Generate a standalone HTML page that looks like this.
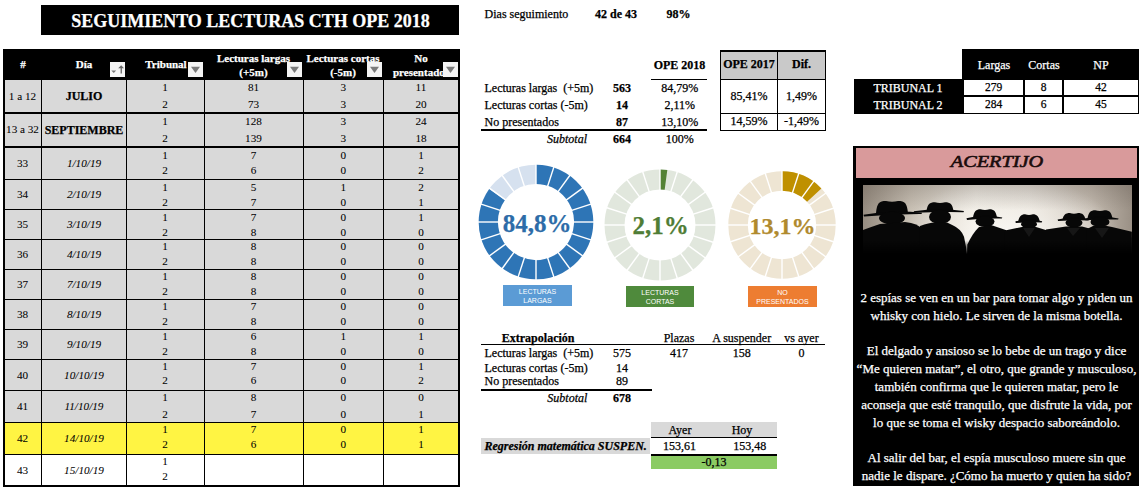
<!DOCTYPE html>
<html><head><meta charset="utf-8"><style>
html,body{margin:0;padding:0;background:#fff;width:1147px;height:492px;overflow:hidden;position:relative}
.t{position:absolute;line-height:1;white-space:nowrap;-webkit-text-stroke:0.25px currentColor}
.r{position:absolute}
</style></head><body>
<div class="r" style="left:41px;top:5px;width:418px;height:30px;background:#000;"></div>
<div class="t" style="left:-49.5px;width:600px;text-align:center;top:11.82px;font-size:18px;font-weight:bold;font-style:normal;color:#fff;font-family:'Liberation Serif', serif;">SEGUIMIENTO LECTURAS CTH OPE 2018</div>
<div class="r" style="left:3px;top:49px;width:457px;height:438px;background:#000;"></div>
<div class="r" style="left:5px;top:80px;width:36px;height:32px;background:#d9d9d9;"></div>
<div class="r" style="left:42px;top:80px;width:84px;height:32px;background:#d9d9d9;"></div>
<div class="r" style="left:127px;top:80px;width:77px;height:32px;background:#d9d9d9;"></div>
<div class="r" style="left:205px;top:80px;width:98px;height:32px;background:#d9d9d9;"></div>
<div class="r" style="left:304px;top:80px;width:79px;height:32px;background:#d9d9d9;"></div>
<div class="r" style="left:384px;top:80px;width:74px;height:32px;background:#d9d9d9;"></div>
<div class="r" style="left:5px;top:114px;width:36px;height:32px;background:#d9d9d9;"></div>
<div class="r" style="left:42px;top:114px;width:84px;height:32px;background:#d9d9d9;"></div>
<div class="r" style="left:127px;top:114px;width:77px;height:32px;background:#d9d9d9;"></div>
<div class="r" style="left:205px;top:114px;width:98px;height:32px;background:#d9d9d9;"></div>
<div class="r" style="left:304px;top:114px;width:79px;height:32px;background:#d9d9d9;"></div>
<div class="r" style="left:384px;top:114px;width:74px;height:32px;background:#d9d9d9;"></div>
<div class="r" style="left:5px;top:148px;width:36px;height:31px;background:#d9d9d9;"></div>
<div class="r" style="left:42px;top:148px;width:84px;height:31px;background:#d9d9d9;"></div>
<div class="r" style="left:127px;top:148px;width:77px;height:31px;background:#d9d9d9;"></div>
<div class="r" style="left:205px;top:148px;width:98px;height:31px;background:#d9d9d9;"></div>
<div class="r" style="left:304px;top:148px;width:79px;height:31px;background:#d9d9d9;"></div>
<div class="r" style="left:384px;top:148px;width:74px;height:31px;background:#d9d9d9;"></div>
<div class="r" style="left:5px;top:180px;width:36px;height:29px;background:#d9d9d9;"></div>
<div class="r" style="left:42px;top:180px;width:84px;height:29px;background:#d9d9d9;"></div>
<div class="r" style="left:127px;top:180px;width:77px;height:29px;background:#d9d9d9;"></div>
<div class="r" style="left:205px;top:180px;width:98px;height:29px;background:#d9d9d9;"></div>
<div class="r" style="left:304px;top:180px;width:79px;height:29px;background:#d9d9d9;"></div>
<div class="r" style="left:384px;top:180px;width:74px;height:29px;background:#d9d9d9;"></div>
<div class="r" style="left:5px;top:210px;width:36px;height:29px;background:#d9d9d9;"></div>
<div class="r" style="left:42px;top:210px;width:84px;height:29px;background:#d9d9d9;"></div>
<div class="r" style="left:127px;top:210px;width:77px;height:29px;background:#d9d9d9;"></div>
<div class="r" style="left:205px;top:210px;width:98px;height:29px;background:#d9d9d9;"></div>
<div class="r" style="left:304px;top:210px;width:79px;height:29px;background:#d9d9d9;"></div>
<div class="r" style="left:384px;top:210px;width:74px;height:29px;background:#d9d9d9;"></div>
<div class="r" style="left:5px;top:240px;width:36px;height:29px;background:#d9d9d9;"></div>
<div class="r" style="left:42px;top:240px;width:84px;height:29px;background:#d9d9d9;"></div>
<div class="r" style="left:127px;top:240px;width:77px;height:29px;background:#d9d9d9;"></div>
<div class="r" style="left:205px;top:240px;width:98px;height:29px;background:#d9d9d9;"></div>
<div class="r" style="left:304px;top:240px;width:79px;height:29px;background:#d9d9d9;"></div>
<div class="r" style="left:384px;top:240px;width:74px;height:29px;background:#d9d9d9;"></div>
<div class="r" style="left:5px;top:270px;width:36px;height:29px;background:#d9d9d9;"></div>
<div class="r" style="left:42px;top:270px;width:84px;height:29px;background:#d9d9d9;"></div>
<div class="r" style="left:127px;top:270px;width:77px;height:29px;background:#d9d9d9;"></div>
<div class="r" style="left:205px;top:270px;width:98px;height:29px;background:#d9d9d9;"></div>
<div class="r" style="left:304px;top:270px;width:79px;height:29px;background:#d9d9d9;"></div>
<div class="r" style="left:384px;top:270px;width:74px;height:29px;background:#d9d9d9;"></div>
<div class="r" style="left:5px;top:300px;width:36px;height:29px;background:#d9d9d9;"></div>
<div class="r" style="left:42px;top:300px;width:84px;height:29px;background:#d9d9d9;"></div>
<div class="r" style="left:127px;top:300px;width:77px;height:29px;background:#d9d9d9;"></div>
<div class="r" style="left:205px;top:300px;width:98px;height:29px;background:#d9d9d9;"></div>
<div class="r" style="left:304px;top:300px;width:79px;height:29px;background:#d9d9d9;"></div>
<div class="r" style="left:384px;top:300px;width:74px;height:29px;background:#d9d9d9;"></div>
<div class="r" style="left:5px;top:330px;width:36px;height:29px;background:#d9d9d9;"></div>
<div class="r" style="left:42px;top:330px;width:84px;height:29px;background:#d9d9d9;"></div>
<div class="r" style="left:127px;top:330px;width:77px;height:29px;background:#d9d9d9;"></div>
<div class="r" style="left:205px;top:330px;width:98px;height:29px;background:#d9d9d9;"></div>
<div class="r" style="left:304px;top:330px;width:79px;height:29px;background:#d9d9d9;"></div>
<div class="r" style="left:384px;top:330px;width:74px;height:29px;background:#d9d9d9;"></div>
<div class="r" style="left:5px;top:360px;width:36px;height:30px;background:#d9d9d9;"></div>
<div class="r" style="left:42px;top:360px;width:84px;height:30px;background:#d9d9d9;"></div>
<div class="r" style="left:127px;top:360px;width:77px;height:30px;background:#d9d9d9;"></div>
<div class="r" style="left:205px;top:360px;width:98px;height:30px;background:#d9d9d9;"></div>
<div class="r" style="left:304px;top:360px;width:79px;height:30px;background:#d9d9d9;"></div>
<div class="r" style="left:384px;top:360px;width:74px;height:30px;background:#d9d9d9;"></div>
<div class="r" style="left:5px;top:391px;width:36px;height:31px;background:#d9d9d9;"></div>
<div class="r" style="left:42px;top:391px;width:84px;height:31px;background:#d9d9d9;"></div>
<div class="r" style="left:127px;top:391px;width:77px;height:31px;background:#d9d9d9;"></div>
<div class="r" style="left:205px;top:391px;width:98px;height:31px;background:#d9d9d9;"></div>
<div class="r" style="left:304px;top:391px;width:79px;height:31px;background:#d9d9d9;"></div>
<div class="r" style="left:384px;top:391px;width:74px;height:31px;background:#d9d9d9;"></div>
<div class="r" style="left:5px;top:423px;width:36px;height:31px;background:#fff443;"></div>
<div class="r" style="left:42px;top:423px;width:84px;height:31px;background:#fff443;"></div>
<div class="r" style="left:127px;top:423px;width:77px;height:31px;background:#fff443;"></div>
<div class="r" style="left:205px;top:423px;width:98px;height:31px;background:#fff443;"></div>
<div class="r" style="left:304px;top:423px;width:79px;height:31px;background:#fff443;"></div>
<div class="r" style="left:384px;top:423px;width:74px;height:31px;background:#fff443;"></div>
<div class="r" style="left:5px;top:455px;width:36px;height:30px;background:#ffffff;"></div>
<div class="r" style="left:42px;top:455px;width:84px;height:30px;background:#ffffff;"></div>
<div class="r" style="left:127px;top:455px;width:77px;height:30px;background:#ffffff;"></div>
<div class="r" style="left:205px;top:455px;width:98px;height:30px;background:#ffffff;"></div>
<div class="r" style="left:304px;top:455px;width:79px;height:30px;background:#ffffff;"></div>
<div class="r" style="left:384px;top:455px;width:74px;height:30px;background:#ffffff;"></div>
<div class="t" style="left:-277px;width:600px;text-align:center;top:59.39px;font-size:11px;font-weight:bold;font-style:normal;color:#fff;font-family:'Liberation Serif', serif;">#</div>
<div class="t" style="left:-216px;width:600px;text-align:center;top:59.39px;font-size:11px;font-weight:bold;font-style:normal;color:#fff;font-family:'Liberation Serif', serif;">Día</div>
<div class="t" style="left:-134px;width:600px;text-align:center;top:59.39px;font-size:11px;font-weight:bold;font-style:normal;color:#fff;font-family:'Liberation Serif', serif;">Tribunal</div>
<div class="t" style="left:-46.5px;width:600px;text-align:center;top:52.79px;font-size:11px;font-weight:bold;font-style:normal;color:#fff;font-family:'Liberation Serif', serif;">Lecturas largas</div>
<div class="t" style="left:-46.5px;width:600px;text-align:center;top:67.19px;font-size:11px;font-weight:bold;font-style:normal;color:#fff;font-family:'Liberation Serif', serif;">(+5m)</div>
<div class="t" style="left:43px;width:600px;text-align:center;top:52.79px;font-size:11px;font-weight:bold;font-style:normal;color:#fff;font-family:'Liberation Serif', serif;">Lecturas cortas</div>
<div class="t" style="left:43px;width:600px;text-align:center;top:67.19px;font-size:11px;font-weight:bold;font-style:normal;color:#fff;font-family:'Liberation Serif', serif;">(-5m)</div>
<div class="t" style="left:121px;width:600px;text-align:center;top:52.79px;font-size:11px;font-weight:bold;font-style:normal;color:#fff;font-family:'Liberation Serif', serif;">No</div>
<div class="t" style="left:385px;width:58px;overflow:hidden;top:67.19px;font-size:11px;font-weight:bold;color:#fff;white-space:nowrap;text-align:left"><span style="margin-left:8px">presentados</span></div>
<div class="r" style="left:110px;top:62px;width:15px;height:15px;background:#f4f4f4"></div>
<svg class="r" style="left:110px;top:62px" width="15" height="15" viewBox="0 0 15 15"><path d="M1.3 8.6 L6.2 8.6 L3.75 11.1 Z" fill="#777"/><path d="M8.2 6.2 L11.2 3.2 L14 6.2 Z" fill="#666"/><rect x="10.6" y="5" width="1.3" height="6.5" fill="#666"/></svg>
<div class="r" style="left:188px;top:62px;width:15px;height:15px;background:#f4f4f4"></div>
<svg class="r" style="left:188px;top:62px" width="15" height="15" viewBox="0 0 15 15"><path d="M3 4.8 L12 4.8 L7.5 11 Z" fill="#7a7a7a"/></svg>
<div class="r" style="left:287px;top:62px;width:15px;height:15px;background:#f4f4f4"></div>
<svg class="r" style="left:287px;top:62px" width="15" height="15" viewBox="0 0 15 15"><path d="M3 4.8 L12 4.8 L7.5 11 Z" fill="#7a7a7a"/></svg>
<div class="r" style="left:367px;top:62px;width:15px;height:15px;background:#f4f4f4"></div>
<svg class="r" style="left:367px;top:62px" width="15" height="15" viewBox="0 0 15 15"><path d="M3 4.8 L12 4.8 L7.5 11 Z" fill="#7a7a7a"/></svg>
<div class="r" style="left:443px;top:62px;width:15px;height:15px;background:#f4f4f4"></div>
<svg class="r" style="left:443px;top:62px" width="15" height="15" viewBox="0 0 15 15"><path d="M3 4.8 L12 4.8 L7.5 11 Z" fill="#7a7a7a"/></svg>
<div class="t" style="left:-277.5px;width:600px;text-align:center;top:90.92px;font-size:11.2px;font-weight:normal;font-style:normal;color:#000;font-family:'Liberation Serif', serif;-webkit-text-stroke:0.05px currentColor;">1 a 12</div>
<div class="t" style="left:-216px;width:600px;text-align:center;top:90.25px;font-size:12px;font-weight:bold;font-style:normal;color:#000;font-family:'Liberation Serif', serif;">JULIO</div>
<div class="t" style="left:-135px;width:600px;text-align:center;top:82.22px;font-size:11.2px;font-weight:normal;font-style:normal;color:#000;font-family:'Liberation Serif', serif;-webkit-text-stroke:0.05px currentColor;">1</div>
<div class="t" style="left:-135px;width:600px;text-align:center;top:98.52px;font-size:11.2px;font-weight:normal;font-style:normal;color:#000;font-family:'Liberation Serif', serif;-webkit-text-stroke:0.05px currentColor;">2</div>
<div class="t" style="left:-46.5px;width:600px;text-align:center;top:82.22px;font-size:11.2px;font-weight:normal;font-style:normal;color:#000;font-family:'Liberation Serif', serif;-webkit-text-stroke:0.05px currentColor;">81</div>
<div class="t" style="left:-46.5px;width:600px;text-align:center;top:98.52px;font-size:11.2px;font-weight:normal;font-style:normal;color:#000;font-family:'Liberation Serif', serif;-webkit-text-stroke:0.05px currentColor;">73</div>
<div class="t" style="left:43.30000000000001px;width:600px;text-align:center;top:82.22px;font-size:11.2px;font-weight:normal;font-style:normal;color:#000;font-family:'Liberation Serif', serif;-webkit-text-stroke:0.05px currentColor;">3</div>
<div class="t" style="left:43.30000000000001px;width:600px;text-align:center;top:98.52px;font-size:11.2px;font-weight:normal;font-style:normal;color:#000;font-family:'Liberation Serif', serif;-webkit-text-stroke:0.05px currentColor;">3</div>
<div class="t" style="left:121px;width:600px;text-align:center;top:82.22px;font-size:11.2px;font-weight:normal;font-style:normal;color:#000;font-family:'Liberation Serif', serif;-webkit-text-stroke:0.05px currentColor;">11</div>
<div class="t" style="left:121px;width:600px;text-align:center;top:98.52px;font-size:11.2px;font-weight:normal;font-style:normal;color:#000;font-family:'Liberation Serif', serif;-webkit-text-stroke:0.05px currentColor;">20</div>
<div class="t" style="left:-277.5px;width:600px;text-align:center;top:124.42px;font-size:11.2px;font-weight:normal;font-style:normal;color:#000;font-family:'Liberation Serif', serif;-webkit-text-stroke:0.05px currentColor;">13 a 32</div>
<div class="t" style="left:-216px;width:600px;text-align:center;top:123.75px;font-size:12px;font-weight:bold;font-style:normal;color:#000;font-family:'Liberation Serif', serif;">SEPTIEMBRE</div>
<div class="t" style="left:-135px;width:600px;text-align:center;top:115.82px;font-size:11.2px;font-weight:normal;font-style:normal;color:#000;font-family:'Liberation Serif', serif;-webkit-text-stroke:0.05px currentColor;">1</div>
<div class="t" style="left:-135px;width:600px;text-align:center;top:132.52px;font-size:11.2px;font-weight:normal;font-style:normal;color:#000;font-family:'Liberation Serif', serif;-webkit-text-stroke:0.05px currentColor;">2</div>
<div class="t" style="left:-46.5px;width:600px;text-align:center;top:115.82px;font-size:11.2px;font-weight:normal;font-style:normal;color:#000;font-family:'Liberation Serif', serif;-webkit-text-stroke:0.05px currentColor;">128</div>
<div class="t" style="left:-46.5px;width:600px;text-align:center;top:132.52px;font-size:11.2px;font-weight:normal;font-style:normal;color:#000;font-family:'Liberation Serif', serif;-webkit-text-stroke:0.05px currentColor;">139</div>
<div class="t" style="left:43.30000000000001px;width:600px;text-align:center;top:115.82px;font-size:11.2px;font-weight:normal;font-style:normal;color:#000;font-family:'Liberation Serif', serif;-webkit-text-stroke:0.05px currentColor;">3</div>
<div class="t" style="left:43.30000000000001px;width:600px;text-align:center;top:132.52px;font-size:11.2px;font-weight:normal;font-style:normal;color:#000;font-family:'Liberation Serif', serif;-webkit-text-stroke:0.05px currentColor;">3</div>
<div class="t" style="left:121px;width:600px;text-align:center;top:115.82px;font-size:11.2px;font-weight:normal;font-style:normal;color:#000;font-family:'Liberation Serif', serif;-webkit-text-stroke:0.05px currentColor;">24</div>
<div class="t" style="left:121px;width:600px;text-align:center;top:132.52px;font-size:11.2px;font-weight:normal;font-style:normal;color:#000;font-family:'Liberation Serif', serif;-webkit-text-stroke:0.05px currentColor;">18</div>
<div class="t" style="left:-277.5px;width:600px;text-align:center;top:157.92px;font-size:11.2px;font-weight:normal;font-style:normal;color:#000;font-family:'Liberation Serif', serif;-webkit-text-stroke:0.05px currentColor;">33</div>
<div class="t" style="left:-216px;width:600px;text-align:center;top:157.92px;font-size:11.2px;font-weight:normal;font-style:italic;color:#000;font-family:'Liberation Serif', serif;-webkit-text-stroke:0.05px currentColor;">1/10/19</div>
<div class="t" style="left:-135px;width:600px;text-align:center;top:149.92px;font-size:11.2px;font-weight:normal;font-style:normal;color:#000;font-family:'Liberation Serif', serif;-webkit-text-stroke:0.05px currentColor;">1</div>
<div class="t" style="left:-135px;width:600px;text-align:center;top:164.82px;font-size:11.2px;font-weight:normal;font-style:normal;color:#000;font-family:'Liberation Serif', serif;-webkit-text-stroke:0.05px currentColor;">2</div>
<div class="t" style="left:-46.5px;width:600px;text-align:center;top:149.92px;font-size:11.2px;font-weight:normal;font-style:normal;color:#000;font-family:'Liberation Serif', serif;-webkit-text-stroke:0.05px currentColor;">7</div>
<div class="t" style="left:-46.5px;width:600px;text-align:center;top:164.82px;font-size:11.2px;font-weight:normal;font-style:normal;color:#000;font-family:'Liberation Serif', serif;-webkit-text-stroke:0.05px currentColor;">6</div>
<div class="t" style="left:43.30000000000001px;width:600px;text-align:center;top:149.92px;font-size:11.2px;font-weight:normal;font-style:normal;color:#000;font-family:'Liberation Serif', serif;-webkit-text-stroke:0.05px currentColor;">0</div>
<div class="t" style="left:43.30000000000001px;width:600px;text-align:center;top:164.82px;font-size:11.2px;font-weight:normal;font-style:normal;color:#000;font-family:'Liberation Serif', serif;-webkit-text-stroke:0.05px currentColor;">0</div>
<div class="t" style="left:121px;width:600px;text-align:center;top:149.92px;font-size:11.2px;font-weight:normal;font-style:normal;color:#000;font-family:'Liberation Serif', serif;-webkit-text-stroke:0.05px currentColor;">1</div>
<div class="t" style="left:121px;width:600px;text-align:center;top:164.82px;font-size:11.2px;font-weight:normal;font-style:normal;color:#000;font-family:'Liberation Serif', serif;-webkit-text-stroke:0.05px currentColor;">2</div>
<div class="t" style="left:-277.5px;width:600px;text-align:center;top:189.42px;font-size:11.2px;font-weight:normal;font-style:normal;color:#000;font-family:'Liberation Serif', serif;-webkit-text-stroke:0.05px currentColor;">34</div>
<div class="t" style="left:-216px;width:600px;text-align:center;top:189.42px;font-size:11.2px;font-weight:normal;font-style:italic;color:#000;font-family:'Liberation Serif', serif;-webkit-text-stroke:0.05px currentColor;">2/10/19</div>
<div class="t" style="left:-135px;width:600px;text-align:center;top:181.92px;font-size:11.2px;font-weight:normal;font-style:normal;color:#000;font-family:'Liberation Serif', serif;-webkit-text-stroke:0.05px currentColor;">1</div>
<div class="t" style="left:-135px;width:600px;text-align:center;top:196.92px;font-size:11.2px;font-weight:normal;font-style:normal;color:#000;font-family:'Liberation Serif', serif;-webkit-text-stroke:0.05px currentColor;">2</div>
<div class="t" style="left:-46.5px;width:600px;text-align:center;top:181.92px;font-size:11.2px;font-weight:normal;font-style:normal;color:#000;font-family:'Liberation Serif', serif;-webkit-text-stroke:0.05px currentColor;">5</div>
<div class="t" style="left:-46.5px;width:600px;text-align:center;top:196.92px;font-size:11.2px;font-weight:normal;font-style:normal;color:#000;font-family:'Liberation Serif', serif;-webkit-text-stroke:0.05px currentColor;">7</div>
<div class="t" style="left:43.30000000000001px;width:600px;text-align:center;top:181.92px;font-size:11.2px;font-weight:normal;font-style:normal;color:#000;font-family:'Liberation Serif', serif;-webkit-text-stroke:0.05px currentColor;">1</div>
<div class="t" style="left:43.30000000000001px;width:600px;text-align:center;top:196.92px;font-size:11.2px;font-weight:normal;font-style:normal;color:#000;font-family:'Liberation Serif', serif;-webkit-text-stroke:0.05px currentColor;">0</div>
<div class="t" style="left:121px;width:600px;text-align:center;top:181.92px;font-size:11.2px;font-weight:normal;font-style:normal;color:#000;font-family:'Liberation Serif', serif;-webkit-text-stroke:0.05px currentColor;">2</div>
<div class="t" style="left:121px;width:600px;text-align:center;top:196.92px;font-size:11.2px;font-weight:normal;font-style:normal;color:#000;font-family:'Liberation Serif', serif;-webkit-text-stroke:0.05px currentColor;">1</div>
<div class="t" style="left:-277.5px;width:600px;text-align:center;top:219.42px;font-size:11.2px;font-weight:normal;font-style:normal;color:#000;font-family:'Liberation Serif', serif;-webkit-text-stroke:0.05px currentColor;">35</div>
<div class="t" style="left:-216px;width:600px;text-align:center;top:219.42px;font-size:11.2px;font-weight:normal;font-style:italic;color:#000;font-family:'Liberation Serif', serif;-webkit-text-stroke:0.05px currentColor;">3/10/19</div>
<div class="t" style="left:-135px;width:600px;text-align:center;top:211.82px;font-size:11.2px;font-weight:normal;font-style:normal;color:#000;font-family:'Liberation Serif', serif;-webkit-text-stroke:0.05px currentColor;">1</div>
<div class="t" style="left:-135px;width:600px;text-align:center;top:226.82px;font-size:11.2px;font-weight:normal;font-style:normal;color:#000;font-family:'Liberation Serif', serif;-webkit-text-stroke:0.05px currentColor;">2</div>
<div class="t" style="left:-46.5px;width:600px;text-align:center;top:211.82px;font-size:11.2px;font-weight:normal;font-style:normal;color:#000;font-family:'Liberation Serif', serif;-webkit-text-stroke:0.05px currentColor;">7</div>
<div class="t" style="left:-46.5px;width:600px;text-align:center;top:226.82px;font-size:11.2px;font-weight:normal;font-style:normal;color:#000;font-family:'Liberation Serif', serif;-webkit-text-stroke:0.05px currentColor;">8</div>
<div class="t" style="left:43.30000000000001px;width:600px;text-align:center;top:211.82px;font-size:11.2px;font-weight:normal;font-style:normal;color:#000;font-family:'Liberation Serif', serif;-webkit-text-stroke:0.05px currentColor;">0</div>
<div class="t" style="left:43.30000000000001px;width:600px;text-align:center;top:226.82px;font-size:11.2px;font-weight:normal;font-style:normal;color:#000;font-family:'Liberation Serif', serif;-webkit-text-stroke:0.05px currentColor;">0</div>
<div class="t" style="left:121px;width:600px;text-align:center;top:211.82px;font-size:11.2px;font-weight:normal;font-style:normal;color:#000;font-family:'Liberation Serif', serif;-webkit-text-stroke:0.05px currentColor;">1</div>
<div class="t" style="left:121px;width:600px;text-align:center;top:226.82px;font-size:11.2px;font-weight:normal;font-style:normal;color:#000;font-family:'Liberation Serif', serif;-webkit-text-stroke:0.05px currentColor;">0</div>
<div class="t" style="left:-277.5px;width:600px;text-align:center;top:249.42px;font-size:11.2px;font-weight:normal;font-style:normal;color:#000;font-family:'Liberation Serif', serif;-webkit-text-stroke:0.05px currentColor;">36</div>
<div class="t" style="left:-216px;width:600px;text-align:center;top:249.42px;font-size:11.2px;font-weight:normal;font-style:italic;color:#000;font-family:'Liberation Serif', serif;-webkit-text-stroke:0.05px currentColor;">4/10/19</div>
<div class="t" style="left:-135px;width:600px;text-align:center;top:241.42px;font-size:11.2px;font-weight:normal;font-style:normal;color:#000;font-family:'Liberation Serif', serif;-webkit-text-stroke:0.05px currentColor;">1</div>
<div class="t" style="left:-135px;width:600px;text-align:center;top:256.32px;font-size:11.2px;font-weight:normal;font-style:normal;color:#000;font-family:'Liberation Serif', serif;-webkit-text-stroke:0.05px currentColor;">2</div>
<div class="t" style="left:-46.5px;width:600px;text-align:center;top:241.42px;font-size:11.2px;font-weight:normal;font-style:normal;color:#000;font-family:'Liberation Serif', serif;-webkit-text-stroke:0.05px currentColor;">8</div>
<div class="t" style="left:-46.5px;width:600px;text-align:center;top:256.32px;font-size:11.2px;font-weight:normal;font-style:normal;color:#000;font-family:'Liberation Serif', serif;-webkit-text-stroke:0.05px currentColor;">8</div>
<div class="t" style="left:43.30000000000001px;width:600px;text-align:center;top:241.42px;font-size:11.2px;font-weight:normal;font-style:normal;color:#000;font-family:'Liberation Serif', serif;-webkit-text-stroke:0.05px currentColor;">0</div>
<div class="t" style="left:43.30000000000001px;width:600px;text-align:center;top:256.32px;font-size:11.2px;font-weight:normal;font-style:normal;color:#000;font-family:'Liberation Serif', serif;-webkit-text-stroke:0.05px currentColor;">0</div>
<div class="t" style="left:121px;width:600px;text-align:center;top:241.42px;font-size:11.2px;font-weight:normal;font-style:normal;color:#000;font-family:'Liberation Serif', serif;-webkit-text-stroke:0.05px currentColor;">0</div>
<div class="t" style="left:121px;width:600px;text-align:center;top:256.32px;font-size:11.2px;font-weight:normal;font-style:normal;color:#000;font-family:'Liberation Serif', serif;-webkit-text-stroke:0.05px currentColor;">0</div>
<div class="t" style="left:-277.5px;width:600px;text-align:center;top:279.42px;font-size:11.2px;font-weight:normal;font-style:normal;color:#000;font-family:'Liberation Serif', serif;-webkit-text-stroke:0.05px currentColor;">37</div>
<div class="t" style="left:-216px;width:600px;text-align:center;top:279.42px;font-size:11.2px;font-weight:normal;font-style:italic;color:#000;font-family:'Liberation Serif', serif;-webkit-text-stroke:0.05px currentColor;">7/10/19</div>
<div class="t" style="left:-135px;width:600px;text-align:center;top:271.02px;font-size:11.2px;font-weight:normal;font-style:normal;color:#000;font-family:'Liberation Serif', serif;-webkit-text-stroke:0.05px currentColor;">1</div>
<div class="t" style="left:-135px;width:600px;text-align:center;top:286.12px;font-size:11.2px;font-weight:normal;font-style:normal;color:#000;font-family:'Liberation Serif', serif;-webkit-text-stroke:0.05px currentColor;">2</div>
<div class="t" style="left:-46.5px;width:600px;text-align:center;top:271.02px;font-size:11.2px;font-weight:normal;font-style:normal;color:#000;font-family:'Liberation Serif', serif;-webkit-text-stroke:0.05px currentColor;">8</div>
<div class="t" style="left:-46.5px;width:600px;text-align:center;top:286.12px;font-size:11.2px;font-weight:normal;font-style:normal;color:#000;font-family:'Liberation Serif', serif;-webkit-text-stroke:0.05px currentColor;">8</div>
<div class="t" style="left:43.30000000000001px;width:600px;text-align:center;top:271.02px;font-size:11.2px;font-weight:normal;font-style:normal;color:#000;font-family:'Liberation Serif', serif;-webkit-text-stroke:0.05px currentColor;">0</div>
<div class="t" style="left:43.30000000000001px;width:600px;text-align:center;top:286.12px;font-size:11.2px;font-weight:normal;font-style:normal;color:#000;font-family:'Liberation Serif', serif;-webkit-text-stroke:0.05px currentColor;">0</div>
<div class="t" style="left:121px;width:600px;text-align:center;top:271.02px;font-size:11.2px;font-weight:normal;font-style:normal;color:#000;font-family:'Liberation Serif', serif;-webkit-text-stroke:0.05px currentColor;">0</div>
<div class="t" style="left:121px;width:600px;text-align:center;top:286.12px;font-size:11.2px;font-weight:normal;font-style:normal;color:#000;font-family:'Liberation Serif', serif;-webkit-text-stroke:0.05px currentColor;">0</div>
<div class="t" style="left:-277.5px;width:600px;text-align:center;top:309.42px;font-size:11.2px;font-weight:normal;font-style:normal;color:#000;font-family:'Liberation Serif', serif;-webkit-text-stroke:0.05px currentColor;">38</div>
<div class="t" style="left:-216px;width:600px;text-align:center;top:309.42px;font-size:11.2px;font-weight:normal;font-style:italic;color:#000;font-family:'Liberation Serif', serif;-webkit-text-stroke:0.05px currentColor;">8/10/19</div>
<div class="t" style="left:-135px;width:600px;text-align:center;top:300.92px;font-size:11.2px;font-weight:normal;font-style:normal;color:#000;font-family:'Liberation Serif', serif;-webkit-text-stroke:0.05px currentColor;">1</div>
<div class="t" style="left:-135px;width:600px;text-align:center;top:315.72px;font-size:11.2px;font-weight:normal;font-style:normal;color:#000;font-family:'Liberation Serif', serif;-webkit-text-stroke:0.05px currentColor;">2</div>
<div class="t" style="left:-46.5px;width:600px;text-align:center;top:300.92px;font-size:11.2px;font-weight:normal;font-style:normal;color:#000;font-family:'Liberation Serif', serif;-webkit-text-stroke:0.05px currentColor;">7</div>
<div class="t" style="left:-46.5px;width:600px;text-align:center;top:315.72px;font-size:11.2px;font-weight:normal;font-style:normal;color:#000;font-family:'Liberation Serif', serif;-webkit-text-stroke:0.05px currentColor;">8</div>
<div class="t" style="left:43.30000000000001px;width:600px;text-align:center;top:300.92px;font-size:11.2px;font-weight:normal;font-style:normal;color:#000;font-family:'Liberation Serif', serif;-webkit-text-stroke:0.05px currentColor;">0</div>
<div class="t" style="left:43.30000000000001px;width:600px;text-align:center;top:315.72px;font-size:11.2px;font-weight:normal;font-style:normal;color:#000;font-family:'Liberation Serif', serif;-webkit-text-stroke:0.05px currentColor;">0</div>
<div class="t" style="left:121px;width:600px;text-align:center;top:300.92px;font-size:11.2px;font-weight:normal;font-style:normal;color:#000;font-family:'Liberation Serif', serif;-webkit-text-stroke:0.05px currentColor;">0</div>
<div class="t" style="left:121px;width:600px;text-align:center;top:315.72px;font-size:11.2px;font-weight:normal;font-style:normal;color:#000;font-family:'Liberation Serif', serif;-webkit-text-stroke:0.05px currentColor;">0</div>
<div class="t" style="left:-277.5px;width:600px;text-align:center;top:339.42px;font-size:11.2px;font-weight:normal;font-style:normal;color:#000;font-family:'Liberation Serif', serif;-webkit-text-stroke:0.05px currentColor;">39</div>
<div class="t" style="left:-216px;width:600px;text-align:center;top:339.42px;font-size:11.2px;font-weight:normal;font-style:italic;color:#000;font-family:'Liberation Serif', serif;-webkit-text-stroke:0.05px currentColor;">9/10/19</div>
<div class="t" style="left:-135px;width:600px;text-align:center;top:330.52px;font-size:11.2px;font-weight:normal;font-style:normal;color:#000;font-family:'Liberation Serif', serif;-webkit-text-stroke:0.05px currentColor;">1</div>
<div class="t" style="left:-135px;width:600px;text-align:center;top:346.12px;font-size:11.2px;font-weight:normal;font-style:normal;color:#000;font-family:'Liberation Serif', serif;-webkit-text-stroke:0.05px currentColor;">2</div>
<div class="t" style="left:-46.5px;width:600px;text-align:center;top:330.52px;font-size:11.2px;font-weight:normal;font-style:normal;color:#000;font-family:'Liberation Serif', serif;-webkit-text-stroke:0.05px currentColor;">6</div>
<div class="t" style="left:-46.5px;width:600px;text-align:center;top:346.12px;font-size:11.2px;font-weight:normal;font-style:normal;color:#000;font-family:'Liberation Serif', serif;-webkit-text-stroke:0.05px currentColor;">8</div>
<div class="t" style="left:43.30000000000001px;width:600px;text-align:center;top:330.52px;font-size:11.2px;font-weight:normal;font-style:normal;color:#000;font-family:'Liberation Serif', serif;-webkit-text-stroke:0.05px currentColor;">1</div>
<div class="t" style="left:43.30000000000001px;width:600px;text-align:center;top:346.12px;font-size:11.2px;font-weight:normal;font-style:normal;color:#000;font-family:'Liberation Serif', serif;-webkit-text-stroke:0.05px currentColor;">0</div>
<div class="t" style="left:121px;width:600px;text-align:center;top:330.52px;font-size:11.2px;font-weight:normal;font-style:normal;color:#000;font-family:'Liberation Serif', serif;-webkit-text-stroke:0.05px currentColor;">1</div>
<div class="t" style="left:121px;width:600px;text-align:center;top:346.12px;font-size:11.2px;font-weight:normal;font-style:normal;color:#000;font-family:'Liberation Serif', serif;-webkit-text-stroke:0.05px currentColor;">0</div>
<div class="t" style="left:-277.5px;width:600px;text-align:center;top:369.92px;font-size:11.2px;font-weight:normal;font-style:normal;color:#000;font-family:'Liberation Serif', serif;-webkit-text-stroke:0.05px currentColor;">40</div>
<div class="t" style="left:-216px;width:600px;text-align:center;top:369.92px;font-size:11.2px;font-weight:normal;font-style:italic;color:#000;font-family:'Liberation Serif', serif;-webkit-text-stroke:0.05px currentColor;">10/10/19</div>
<div class="t" style="left:-135px;width:600px;text-align:center;top:361.22px;font-size:11.2px;font-weight:normal;font-style:normal;color:#000;font-family:'Liberation Serif', serif;-webkit-text-stroke:0.05px currentColor;">1</div>
<div class="t" style="left:-135px;width:600px;text-align:center;top:374.72px;font-size:11.2px;font-weight:normal;font-style:normal;color:#000;font-family:'Liberation Serif', serif;-webkit-text-stroke:0.05px currentColor;">2</div>
<div class="t" style="left:-46.5px;width:600px;text-align:center;top:361.22px;font-size:11.2px;font-weight:normal;font-style:normal;color:#000;font-family:'Liberation Serif', serif;-webkit-text-stroke:0.05px currentColor;">7</div>
<div class="t" style="left:-46.5px;width:600px;text-align:center;top:374.72px;font-size:11.2px;font-weight:normal;font-style:normal;color:#000;font-family:'Liberation Serif', serif;-webkit-text-stroke:0.05px currentColor;">6</div>
<div class="t" style="left:43.30000000000001px;width:600px;text-align:center;top:361.22px;font-size:11.2px;font-weight:normal;font-style:normal;color:#000;font-family:'Liberation Serif', serif;-webkit-text-stroke:0.05px currentColor;">0</div>
<div class="t" style="left:43.30000000000001px;width:600px;text-align:center;top:374.72px;font-size:11.2px;font-weight:normal;font-style:normal;color:#000;font-family:'Liberation Serif', serif;-webkit-text-stroke:0.05px currentColor;">0</div>
<div class="t" style="left:121px;width:600px;text-align:center;top:361.22px;font-size:11.2px;font-weight:normal;font-style:normal;color:#000;font-family:'Liberation Serif', serif;-webkit-text-stroke:0.05px currentColor;">1</div>
<div class="t" style="left:121px;width:600px;text-align:center;top:374.72px;font-size:11.2px;font-weight:normal;font-style:normal;color:#000;font-family:'Liberation Serif', serif;-webkit-text-stroke:0.05px currentColor;">2</div>
<div class="t" style="left:-277.5px;width:600px;text-align:center;top:401.42px;font-size:11.2px;font-weight:normal;font-style:normal;color:#000;font-family:'Liberation Serif', serif;-webkit-text-stroke:0.05px currentColor;">41</div>
<div class="t" style="left:-216px;width:600px;text-align:center;top:401.42px;font-size:11.2px;font-weight:normal;font-style:italic;color:#000;font-family:'Liberation Serif', serif;-webkit-text-stroke:0.05px currentColor;">11/10/19</div>
<div class="t" style="left:-135px;width:600px;text-align:center;top:392.22px;font-size:11.2px;font-weight:normal;font-style:normal;color:#000;font-family:'Liberation Serif', serif;-webkit-text-stroke:0.05px currentColor;">1</div>
<div class="t" style="left:-135px;width:600px;text-align:center;top:409.02px;font-size:11.2px;font-weight:normal;font-style:normal;color:#000;font-family:'Liberation Serif', serif;-webkit-text-stroke:0.05px currentColor;">2</div>
<div class="t" style="left:-46.5px;width:600px;text-align:center;top:392.22px;font-size:11.2px;font-weight:normal;font-style:normal;color:#000;font-family:'Liberation Serif', serif;-webkit-text-stroke:0.05px currentColor;">8</div>
<div class="t" style="left:-46.5px;width:600px;text-align:center;top:409.02px;font-size:11.2px;font-weight:normal;font-style:normal;color:#000;font-family:'Liberation Serif', serif;-webkit-text-stroke:0.05px currentColor;">7</div>
<div class="t" style="left:43.30000000000001px;width:600px;text-align:center;top:392.22px;font-size:11.2px;font-weight:normal;font-style:normal;color:#000;font-family:'Liberation Serif', serif;-webkit-text-stroke:0.05px currentColor;">0</div>
<div class="t" style="left:43.30000000000001px;width:600px;text-align:center;top:409.02px;font-size:11.2px;font-weight:normal;font-style:normal;color:#000;font-family:'Liberation Serif', serif;-webkit-text-stroke:0.05px currentColor;">0</div>
<div class="t" style="left:121px;width:600px;text-align:center;top:392.22px;font-size:11.2px;font-weight:normal;font-style:normal;color:#000;font-family:'Liberation Serif', serif;-webkit-text-stroke:0.05px currentColor;">0</div>
<div class="t" style="left:121px;width:600px;text-align:center;top:409.02px;font-size:11.2px;font-weight:normal;font-style:normal;color:#000;font-family:'Liberation Serif', serif;-webkit-text-stroke:0.05px currentColor;">1</div>
<div class="t" style="left:-277.5px;width:600px;text-align:center;top:433.42px;font-size:11.2px;font-weight:normal;font-style:normal;color:#000;font-family:'Liberation Serif', serif;-webkit-text-stroke:0.05px currentColor;">42</div>
<div class="t" style="left:-216px;width:600px;text-align:center;top:433.42px;font-size:11.2px;font-weight:normal;font-style:italic;color:#000;font-family:'Liberation Serif', serif;-webkit-text-stroke:0.05px currentColor;">14/10/19</div>
<div class="t" style="left:-135px;width:600px;text-align:center;top:424.32px;font-size:11.2px;font-weight:normal;font-style:normal;color:#000;font-family:'Liberation Serif', serif;-webkit-text-stroke:0.05px currentColor;">1</div>
<div class="t" style="left:-135px;width:600px;text-align:center;top:439.22px;font-size:11.2px;font-weight:normal;font-style:normal;color:#000;font-family:'Liberation Serif', serif;-webkit-text-stroke:0.05px currentColor;">2</div>
<div class="t" style="left:-46.5px;width:600px;text-align:center;top:424.32px;font-size:11.2px;font-weight:normal;font-style:normal;color:#000;font-family:'Liberation Serif', serif;-webkit-text-stroke:0.05px currentColor;">7</div>
<div class="t" style="left:-46.5px;width:600px;text-align:center;top:439.22px;font-size:11.2px;font-weight:normal;font-style:normal;color:#000;font-family:'Liberation Serif', serif;-webkit-text-stroke:0.05px currentColor;">6</div>
<div class="t" style="left:43.30000000000001px;width:600px;text-align:center;top:424.32px;font-size:11.2px;font-weight:normal;font-style:normal;color:#000;font-family:'Liberation Serif', serif;-webkit-text-stroke:0.05px currentColor;">0</div>
<div class="t" style="left:43.30000000000001px;width:600px;text-align:center;top:439.22px;font-size:11.2px;font-weight:normal;font-style:normal;color:#000;font-family:'Liberation Serif', serif;-webkit-text-stroke:0.05px currentColor;">0</div>
<div class="t" style="left:121px;width:600px;text-align:center;top:424.32px;font-size:11.2px;font-weight:normal;font-style:normal;color:#000;font-family:'Liberation Serif', serif;-webkit-text-stroke:0.05px currentColor;">1</div>
<div class="t" style="left:121px;width:600px;text-align:center;top:439.22px;font-size:11.2px;font-weight:normal;font-style:normal;color:#000;font-family:'Liberation Serif', serif;-webkit-text-stroke:0.05px currentColor;">1</div>
<div class="t" style="left:-277.5px;width:600px;text-align:center;top:464.92px;font-size:11.2px;font-weight:normal;font-style:normal;color:#000;font-family:'Liberation Serif', serif;-webkit-text-stroke:0.05px currentColor;">43</div>
<div class="t" style="left:-216px;width:600px;text-align:center;top:464.92px;font-size:11.2px;font-weight:normal;font-style:italic;color:#000;font-family:'Liberation Serif', serif;-webkit-text-stroke:0.05px currentColor;">15/10/19</div>
<div class="t" style="left:-135px;width:600px;text-align:center;top:455.92px;font-size:11.2px;font-weight:normal;font-style:normal;color:#000;font-family:'Liberation Serif', serif;-webkit-text-stroke:0.05px currentColor;">1</div>
<div class="t" style="left:-135px;width:600px;text-align:center;top:470.82px;font-size:11.2px;font-weight:normal;font-style:normal;color:#000;font-family:'Liberation Serif', serif;-webkit-text-stroke:0.05px currentColor;">2</div>
<div class="t" style="left:484.6px;top:7.55px;font-size:12px;font-weight:normal;font-style:normal;color:#000;font-family:'Liberation Serif', serif;">Dias seguimiento</div>
<div class="t" style="left:595px;top:7.55px;font-size:12px;font-weight:bold;font-style:normal;color:#000;font-family:'Liberation Serif', serif;">42 de 43</div>
<div class="t" style="left:666.5px;top:7.55px;font-size:12px;font-weight:bold;font-style:normal;color:#000;font-family:'Liberation Serif', serif;">98%</div>
<div class="t" style="left:379.5px;width:600px;text-align:center;top:58.95px;font-size:12px;font-weight:bold;font-style:normal;color:#000;font-family:'Liberation Serif', serif;">OPE 2018</div>
<div class="r" style="left:651px;top:79px;width:56px;height:1px;background:#000;"></div>
<div class="t" style="left:484.5px;top:81.95px;font-size:12px;font-weight:normal;font-style:normal;color:#000;font-family:'Liberation Serif', serif;">Lecturas largas&nbsp; (+5m)</div>
<div class="t" style="left:322px;width:600px;text-align:center;top:81.95px;font-size:12px;font-weight:bold;font-style:normal;color:#000;font-family:'Liberation Serif', serif;">563</div>
<div class="t" style="left:379.70000000000005px;width:600px;text-align:center;top:81.95px;font-size:12px;font-weight:normal;font-style:normal;color:#000;font-family:'Liberation Serif', serif;">84,79%</div>
<div class="t" style="left:484.5px;top:98.95px;font-size:12px;font-weight:normal;font-style:normal;color:#000;font-family:'Liberation Serif', serif;">Lecturas cortas (-5m)</div>
<div class="t" style="left:322px;width:600px;text-align:center;top:98.95px;font-size:12px;font-weight:bold;font-style:normal;color:#000;font-family:'Liberation Serif', serif;">14</div>
<div class="t" style="left:379.70000000000005px;width:600px;text-align:center;top:98.95px;font-size:12px;font-weight:normal;font-style:normal;color:#000;font-family:'Liberation Serif', serif;">2,11%</div>
<div class="t" style="left:484.5px;top:115.95px;font-size:12px;font-weight:normal;font-style:normal;color:#000;font-family:'Liberation Serif', serif;">No presentados</div>
<div class="t" style="left:322px;width:600px;text-align:center;top:115.95px;font-size:12px;font-weight:bold;font-style:normal;color:#000;font-family:'Liberation Serif', serif;">87</div>
<div class="t" style="left:379.70000000000005px;width:600px;text-align:center;top:115.95px;font-size:12px;font-weight:normal;font-style:normal;color:#000;font-family:'Liberation Serif', serif;">13,10%</div>
<div class="r" style="left:481px;top:129px;width:226px;height:2px;background:#000;"></div>
<div class="t" style="left:-13px;width:600px;text-align:right;top:132.95px;font-size:12px;font-weight:normal;font-style:italic;color:#000;font-family:'Liberation Serif', serif;">Subtotal</div>
<div class="t" style="left:322px;width:600px;text-align:center;top:132.95px;font-size:12px;font-weight:bold;font-style:normal;color:#000;font-family:'Liberation Serif', serif;">664</div>
<div class="t" style="left:379.70000000000005px;width:600px;text-align:center;top:132.95px;font-size:12px;font-weight:normal;font-style:normal;color:#000;font-family:'Liberation Serif', serif;">100%</div>
<div class="r" style="left:720px;top:50px;width:106px;height:81px;background:#000;"></div>
<div class="r" style="left:721px;top:52px;width:56px;height:27px;background:#c9c9c9;"></div>
<div class="r" style="left:778px;top:52px;width:47px;height:27px;background:#c9c9c9;"></div>
<div class="r" style="left:721px;top:80px;width:56px;height:33px;background:#fff;"></div>
<div class="r" style="left:778px;top:80px;width:47px;height:33px;background:#fff;"></div>
<div class="r" style="left:721px;top:114px;width:56px;height:16px;background:#fff;"></div>
<div class="r" style="left:778px;top:114px;width:47px;height:16px;background:#fff;"></div>
<div class="t" style="left:449px;width:600px;text-align:center;top:58.35px;font-size:12px;font-weight:bold;font-style:normal;color:#000;font-family:'Liberation Serif', serif;">OPE 2017</div>
<div class="t" style="left:501.5px;width:600px;text-align:center;top:58.35px;font-size:12px;font-weight:bold;font-style:normal;color:#000;font-family:'Liberation Serif', serif;">Dif.</div>
<div class="t" style="left:449px;width:600px;text-align:center;top:89.95px;font-size:12px;font-weight:normal;font-style:normal;color:#000;font-family:'Liberation Serif', serif;">85,41%</div>
<div class="t" style="left:501.5px;width:600px;text-align:center;top:89.95px;font-size:12px;font-weight:normal;font-style:normal;color:#000;font-family:'Liberation Serif', serif;">1,49%</div>
<div class="t" style="left:449px;width:600px;text-align:center;top:115.25px;font-size:12px;font-weight:normal;font-style:normal;color:#000;font-family:'Liberation Serif', serif;">14,59%</div>
<div class="t" style="left:501.5px;width:600px;text-align:center;top:115.25px;font-size:12px;font-weight:normal;font-style:normal;color:#000;font-family:'Liberation Serif', serif;">-1,49%</div>
<div class="r" style="left:962px;top:49px;width:177px;height:65px;background:#000;"></div>
<div class="r" style="left:854px;top:79px;width:110px;height:35px;background:#000;"></div>
<div class="r" style="left:964px;top:80px;width:59px;height:15px;background:#fff;"></div>
<div class="r" style="left:964px;top:97px;width:59px;height:16px;background:#fff;"></div>
<div class="r" style="left:1025px;top:80px;width:37px;height:15px;background:#fff;"></div>
<div class="r" style="left:1025px;top:97px;width:37px;height:16px;background:#fff;"></div>
<div class="r" style="left:1064px;top:80px;width:74px;height:15px;background:#fff;"></div>
<div class="r" style="left:1064px;top:97px;width:74px;height:16px;background:#fff;"></div>
<div class="t" style="left:694px;width:600px;text-align:center;top:58.95px;font-size:12px;font-weight:normal;font-style:normal;color:#fff;font-family:'Liberation Serif', serif;">Largas</div>
<div class="t" style="left:744px;width:600px;text-align:center;top:58.95px;font-size:12px;font-weight:normal;font-style:normal;color:#fff;font-family:'Liberation Serif', serif;">Cortas</div>
<div class="t" style="left:801px;width:600px;text-align:center;top:58.95px;font-size:12px;font-weight:normal;font-style:normal;color:#fff;font-family:'Liberation Serif', serif;">NP</div>
<div class="t" style="left:608px;width:600px;text-align:center;top:81.95px;font-size:12px;font-weight:normal;font-style:normal;color:#fff;font-family:'Liberation Serif', serif;">TRIBUNAL 1</div>
<div class="t" style="left:608px;width:600px;text-align:center;top:98.95px;font-size:12px;font-weight:normal;font-style:normal;color:#fff;font-family:'Liberation Serif', serif;">TRIBUNAL 2</div>
<div class="t" style="left:693.7px;width:600px;text-align:center;top:81.97px;font-size:11.5px;font-weight:normal;font-style:normal;color:#000;font-family:'Liberation Serif', serif;">279</div>
<div class="t" style="left:693.7px;width:600px;text-align:center;top:99.17px;font-size:11.5px;font-weight:normal;font-style:normal;color:#000;font-family:'Liberation Serif', serif;">284</div>
<div class="t" style="left:743.5px;width:600px;text-align:center;top:81.97px;font-size:11.5px;font-weight:normal;font-style:normal;color:#000;font-family:'Liberation Serif', serif;">8</div>
<div class="t" style="left:743.5px;width:600px;text-align:center;top:99.17px;font-size:11.5px;font-weight:normal;font-style:normal;color:#000;font-family:'Liberation Serif', serif;">6</div>
<div class="t" style="left:801px;width:600px;text-align:center;top:81.97px;font-size:11.5px;font-weight:normal;font-style:normal;color:#000;font-family:'Liberation Serif', serif;">42</div>
<div class="t" style="left:801px;width:600px;text-align:center;top:99.17px;font-size:11.5px;font-weight:normal;font-style:normal;color:#000;font-family:'Liberation Serif', serif;">45</div>
<svg class="r" style="left:466.20000000000005px;top:152.4px" width="140" height="140" viewBox="0 0 140 140"><circle cx="70" cy="70" r="47.65" fill="none" stroke="#d6e1ef" stroke-width="19.299999999999997"/><path d="M70 22.35 A47.65 47.65 0 1 1 31.101 42.479" fill="none" stroke="#2e75b6" stroke-width="19.299999999999997"/><line x1="70.000" y1="34.000" x2="70.000" y2="10.700" stroke="#fff" stroke-width="1.4"/><line x1="81.125" y1="35.762" x2="88.325" y2="13.602" stroke="#fff" stroke-width="1.4"/><line x1="91.160" y1="40.875" x2="104.856" y2="22.025" stroke="#fff" stroke-width="1.4"/><line x1="99.125" y1="48.840" x2="117.975" y2="35.144" stroke="#fff" stroke-width="1.4"/><line x1="104.238" y1="58.875" x2="126.398" y2="51.675" stroke="#fff" stroke-width="1.4"/><line x1="106.000" y1="70.000" x2="129.300" y2="70.000" stroke="#fff" stroke-width="1.4"/><line x1="104.238" y1="81.125" x2="126.398" y2="88.325" stroke="#fff" stroke-width="1.4"/><line x1="99.125" y1="91.160" x2="117.975" y2="104.856" stroke="#fff" stroke-width="1.4"/><line x1="91.160" y1="99.125" x2="104.856" y2="117.975" stroke="#fff" stroke-width="1.4"/><line x1="81.125" y1="104.238" x2="88.325" y2="126.398" stroke="#fff" stroke-width="1.4"/><line x1="70.000" y1="106.000" x2="70.000" y2="129.300" stroke="#fff" stroke-width="1.4"/><line x1="58.875" y1="104.238" x2="51.675" y2="126.398" stroke="#fff" stroke-width="1.4"/><line x1="48.840" y1="99.125" x2="35.144" y2="117.975" stroke="#fff" stroke-width="1.4"/><line x1="40.875" y1="91.160" x2="22.025" y2="104.856" stroke="#fff" stroke-width="1.4"/><line x1="35.762" y1="81.125" x2="13.602" y2="88.325" stroke="#fff" stroke-width="1.4"/><line x1="34.000" y1="70.000" x2="10.700" y2="70.000" stroke="#fff" stroke-width="1.4"/><line x1="35.762" y1="58.875" x2="13.602" y2="51.675" stroke="#fff" stroke-width="1.4"/><line x1="40.875" y1="48.840" x2="22.025" y2="35.144" stroke="#fff" stroke-width="1.4"/><line x1="48.840" y1="40.875" x2="35.144" y2="22.025" stroke="#fff" stroke-width="1.4"/><line x1="58.875" y1="35.762" x2="51.675" y2="13.602" stroke="#fff" stroke-width="1.4"/></svg>
<div class="t" style="left:237.20000000000005px;width:600px;text-align:center;top:210.66px;font-size:25px;font-weight:bold;font-style:normal;color:#2d6ca8;font-family:'Liberation Serif', serif;">84,8%</div>
<div class="r" style="left:503px;top:285px;width:69px;height:21px;background:#5b9bd5;"></div>
<div class="t" style="left:237.5px;width:600px;text-align:center;top:288.07px;font-size:7px;font-weight:normal;font-style:normal;color:#fff;font-family:'Liberation Sans', sans-serif;-webkit-text-stroke:0;">LECTURAS</div>
<div class="t" style="left:237.5px;width:600px;text-align:center;top:296.57px;font-size:7px;font-weight:normal;font-style:normal;color:#fff;font-family:'Liberation Sans', sans-serif;-webkit-text-stroke:0;">LARGAS</div>
<svg class="r" style="left:589.5px;top:154.9px" width="140" height="140" viewBox="0 0 140 140"><circle cx="70" cy="70" r="45.5" fill="none" stroke="#e1e7dd" stroke-width="20.0"/><path d="M70 24.5 A45.5 45.5 0 0 1 75.986 24.896" fill="none" stroke="#548235" stroke-width="20.0"/><line x1="70.000" y1="36.500" x2="70.000" y2="12.500" stroke="#fff" stroke-width="1.4"/><line x1="80.352" y1="38.140" x2="87.768" y2="15.314" stroke="#fff" stroke-width="1.4"/><line x1="89.691" y1="42.898" x2="103.798" y2="23.482" stroke="#fff" stroke-width="1.4"/><line x1="97.102" y1="50.309" x2="116.518" y2="36.202" stroke="#fff" stroke-width="1.4"/><line x1="101.860" y1="59.648" x2="124.686" y2="52.232" stroke="#fff" stroke-width="1.4"/><line x1="103.500" y1="70.000" x2="127.500" y2="70.000" stroke="#fff" stroke-width="1.4"/><line x1="101.860" y1="80.352" x2="124.686" y2="87.768" stroke="#fff" stroke-width="1.4"/><line x1="97.102" y1="89.691" x2="116.518" y2="103.798" stroke="#fff" stroke-width="1.4"/><line x1="89.691" y1="97.102" x2="103.798" y2="116.518" stroke="#fff" stroke-width="1.4"/><line x1="80.352" y1="101.860" x2="87.768" y2="124.686" stroke="#fff" stroke-width="1.4"/><line x1="70.000" y1="103.500" x2="70.000" y2="127.500" stroke="#fff" stroke-width="1.4"/><line x1="59.648" y1="101.860" x2="52.232" y2="124.686" stroke="#fff" stroke-width="1.4"/><line x1="50.309" y1="97.102" x2="36.202" y2="116.518" stroke="#fff" stroke-width="1.4"/><line x1="42.898" y1="89.691" x2="23.482" y2="103.798" stroke="#fff" stroke-width="1.4"/><line x1="38.140" y1="80.352" x2="15.314" y2="87.768" stroke="#fff" stroke-width="1.4"/><line x1="36.500" y1="70.000" x2="12.500" y2="70.000" stroke="#fff" stroke-width="1.4"/><line x1="38.140" y1="59.648" x2="15.314" y2="52.232" stroke="#fff" stroke-width="1.4"/><line x1="42.898" y1="50.309" x2="23.482" y2="36.202" stroke="#fff" stroke-width="1.4"/><line x1="50.309" y1="42.898" x2="36.202" y2="23.482" stroke="#fff" stroke-width="1.4"/><line x1="59.648" y1="38.140" x2="52.232" y2="15.314" stroke="#fff" stroke-width="1.4"/></svg>
<div class="t" style="left:360.5px;width:600px;text-align:center;top:213.16px;font-size:25px;font-weight:bold;font-style:normal;color:#4f7d36;font-family:'Liberation Serif', serif;">2,1%</div>
<div class="r" style="left:626px;top:286px;width:68px;height:21px;background:#4f8a3c;"></div>
<div class="t" style="left:360.0px;width:600px;text-align:center;top:289.07px;font-size:7px;font-weight:normal;font-style:normal;color:#fff;font-family:'Liberation Sans', sans-serif;-webkit-text-stroke:0;">LECTURAS</div>
<div class="t" style="left:360.0px;width:600px;text-align:center;top:297.57px;font-size:7px;font-weight:normal;font-style:normal;color:#fff;font-family:'Liberation Sans', sans-serif;-webkit-text-stroke:0;">CORTAS</div>
<svg class="r" style="left:711.5px;top:154.9px" width="140" height="140" viewBox="0 0 140 140"><circle cx="70" cy="70" r="43.95" fill="none" stroke="#eee5d3" stroke-width="19.5"/><path d="M70 26.049999999999997 A43.95 43.95 0 0 1 102.227 40.116" fill="none" stroke="#bf9000" stroke-width="19.5"/><line x1="70.000" y1="37.800" x2="70.000" y2="14.300" stroke="#fff" stroke-width="1.4"/><line x1="79.950" y1="39.376" x2="87.212" y2="17.026" stroke="#fff" stroke-width="1.4"/><line x1="88.927" y1="43.950" x2="102.740" y2="24.938" stroke="#fff" stroke-width="1.4"/><line x1="96.050" y1="51.073" x2="115.062" y2="37.260" stroke="#fff" stroke-width="1.4"/><line x1="100.624" y1="60.050" x2="122.974" y2="52.788" stroke="#fff" stroke-width="1.4"/><line x1="102.200" y1="70.000" x2="125.700" y2="70.000" stroke="#fff" stroke-width="1.4"/><line x1="100.624" y1="79.950" x2="122.974" y2="87.212" stroke="#fff" stroke-width="1.4"/><line x1="96.050" y1="88.927" x2="115.062" y2="102.740" stroke="#fff" stroke-width="1.4"/><line x1="88.927" y1="96.050" x2="102.740" y2="115.062" stroke="#fff" stroke-width="1.4"/><line x1="79.950" y1="100.624" x2="87.212" y2="122.974" stroke="#fff" stroke-width="1.4"/><line x1="70.000" y1="102.200" x2="70.000" y2="125.700" stroke="#fff" stroke-width="1.4"/><line x1="60.050" y1="100.624" x2="52.788" y2="122.974" stroke="#fff" stroke-width="1.4"/><line x1="51.073" y1="96.050" x2="37.260" y2="115.062" stroke="#fff" stroke-width="1.4"/><line x1="43.950" y1="88.927" x2="24.938" y2="102.740" stroke="#fff" stroke-width="1.4"/><line x1="39.376" y1="79.950" x2="17.026" y2="87.212" stroke="#fff" stroke-width="1.4"/><line x1="37.800" y1="70.000" x2="14.300" y2="70.000" stroke="#fff" stroke-width="1.4"/><line x1="39.376" y1="60.050" x2="17.026" y2="52.788" stroke="#fff" stroke-width="1.4"/><line x1="43.950" y1="51.073" x2="24.938" y2="37.260" stroke="#fff" stroke-width="1.4"/><line x1="51.073" y1="43.950" x2="37.260" y2="24.938" stroke="#fff" stroke-width="1.4"/><line x1="60.050" y1="39.376" x2="52.788" y2="17.026" stroke="#fff" stroke-width="1.4"/></svg>
<div class="t" style="left:482.5px;width:600px;text-align:center;top:214.00px;font-size:24px;font-weight:bold;font-style:normal;color:#b08a2e;font-family:'Liberation Serif', serif;">13,1%</div>
<div class="r" style="left:748px;top:286px;width:69px;height:21px;background:#ed7d31;"></div>
<div class="t" style="left:482.5px;width:600px;text-align:center;top:289.07px;font-size:7px;font-weight:normal;font-style:normal;color:#fff;font-family:'Liberation Sans', sans-serif;-webkit-text-stroke:0;">NO</div>
<div class="t" style="left:482.5px;width:600px;text-align:center;top:297.57px;font-size:7px;font-weight:normal;font-style:normal;color:#fff;font-family:'Liberation Sans', sans-serif;-webkit-text-stroke:0;">PRESENTADOS</div>
<div class="t" style="left:501.8px;top:331.95px;font-size:12px;font-weight:bold;font-style:normal;color:#000;font-family:'Liberation Serif', serif;">Extrapolación</div>
<div class="t" style="left:379px;width:600px;text-align:center;top:331.95px;font-size:12px;font-weight:normal;font-style:normal;color:#000;font-family:'Liberation Serif', serif;">Plazas</div>
<div class="t" style="left:441.70000000000005px;width:600px;text-align:center;top:331.95px;font-size:12px;font-weight:normal;font-style:normal;color:#000;font-family:'Liberation Serif', serif;">A suspender</div>
<div class="t" style="left:501.5px;width:600px;text-align:center;top:331.95px;font-size:12px;font-weight:normal;font-style:normal;color:#000;font-family:'Liberation Serif', serif;">vs ayer</div>
<div class="r" style="left:481px;top:344px;width:344px;height:1px;background:#000;"></div>
<div class="t" style="left:484.5px;top:346.95px;font-size:12px;font-weight:normal;font-style:normal;color:#000;font-family:'Liberation Serif', serif;">Lecturas largas&nbsp; (+5m)</div>
<div class="t" style="left:322px;width:600px;text-align:center;top:346.95px;font-size:12px;font-weight:normal;font-style:normal;color:#000;font-family:'Liberation Serif', serif;">575</div>
<div class="t" style="left:379px;width:600px;text-align:center;top:346.95px;font-size:12px;font-weight:normal;font-style:normal;color:#000;font-family:'Liberation Serif', serif;">417</div>
<div class="t" style="left:441.70000000000005px;width:600px;text-align:center;top:346.95px;font-size:12px;font-weight:normal;font-style:normal;color:#000;font-family:'Liberation Serif', serif;">158</div>
<div class="t" style="left:501.5px;width:600px;text-align:center;top:346.95px;font-size:12px;font-weight:normal;font-style:normal;color:#000;font-family:'Liberation Serif', serif;">0</div>
<div class="t" style="left:484.5px;top:361.55px;font-size:12px;font-weight:normal;font-style:normal;color:#000;font-family:'Liberation Serif', serif;">Lecturas cortas (-5m)</div>
<div class="t" style="left:322px;width:600px;text-align:center;top:361.55px;font-size:12px;font-weight:normal;font-style:normal;color:#000;font-family:'Liberation Serif', serif;">14</div>
<div class="t" style="left:484.5px;top:375.45px;font-size:12px;font-weight:normal;font-style:normal;color:#000;font-family:'Liberation Serif', serif;">No presentados</div>
<div class="t" style="left:322px;width:600px;text-align:center;top:375.45px;font-size:12px;font-weight:normal;font-style:normal;color:#000;font-family:'Liberation Serif', serif;">89</div>
<div class="r" style="left:481px;top:389px;width:171px;height:2px;background:#000;"></div>
<div class="t" style="left:-12.700000000000045px;width:600px;text-align:right;top:391.85px;font-size:12px;font-weight:normal;font-style:italic;color:#000;font-family:'Liberation Serif', serif;">Subtotal</div>
<div class="t" style="left:322px;width:600px;text-align:center;top:391.85px;font-size:12px;font-weight:bold;font-style:normal;color:#000;font-family:'Liberation Serif', serif;">678</div>
<div class="r" style="left:651px;top:422px;width:126px;height:15px;background:#d9d9d9;"></div>
<div class="r" style="left:651px;top:437px;width:126px;height:1px;background:#000;"></div>
<div class="r" style="left:481px;top:438px;width:169px;height:16px;background:#d9d9d9;"></div>
<div class="r" style="left:651px;top:454px;width:126px;height:1.5px;background:#000;"></div>
<div class="r" style="left:651px;top:455.5px;width:126px;height:13px;background:#8bcb63;"></div>
<div class="t" style="left:380px;width:600px;text-align:center;top:423.95px;font-size:12px;font-weight:normal;font-style:normal;color:#000;font-family:'Liberation Serif', serif;">Ayer</div>
<div class="t" style="left:442px;width:600px;text-align:center;top:423.95px;font-size:12px;font-weight:normal;font-style:normal;color:#000;font-family:'Liberation Serif', serif;">Hoy</div>
<div class="t" style="left:484.5px;top:439.95px;font-size:12px;font-weight:bold;font-style:italic;color:#000;font-family:'Liberation Serif', serif;">Regresión matemática SUSPEN.</div>
<div class="t" style="left:379.5px;width:600px;text-align:center;top:439.95px;font-size:12px;font-weight:normal;font-style:normal;color:#000;font-family:'Liberation Serif', serif;">153,61</div>
<div class="t" style="left:449.70000000000005px;width:600px;text-align:center;top:439.95px;font-size:12px;font-weight:normal;font-style:normal;color:#000;font-family:'Liberation Serif', serif;">153,48</div>
<div class="t" style="left:414px;width:600px;text-align:center;top:456.35px;font-size:12px;font-weight:normal;font-style:normal;color:#000;font-family:'Liberation Serif', serif;">-0,13</div>
<div class="r" style="left:853px;top:146px;width:286px;height:340px;background:#000;"></div>
<div class="r" style="left:855.5px;top:148px;width:281.5px;height:30px;background:#d99a9b;"></div>
<div class="t" style="left:697px;width:600px;text-align:center;top:152.94px;font-size:17.5px;font-weight:normal;font-style:italic;color:#1a0c0c;font-family:'Liberation Serif', serif;-webkit-text-stroke:0.6px #1a0c0c;transform:scaleX(1.16);">ACERTIJO</div>
<svg class="r" style="left:863px;top:185px" width="269" height="115" viewBox="0 0 269 115">
<defs>
<linearGradient id="skyh" x1="0" y1="0" x2="1" y2="0">
<stop offset="0" stop-color="#968c80"/><stop offset="0.18" stop-color="#c9c1b5"/><stop offset="0.42" stop-color="#eeeae2"/><stop offset="0.62" stop-color="#e6e1d9"/><stop offset="0.85" stop-color="#c4bbb0"/><stop offset="1" stop-color="#9a9085"/>
</linearGradient>
<radialGradient id="glow" cx="0.55" cy="0.55" r="0.42" gradientTransform="translate(0.55 0.55) scale(1 1.5) translate(-0.55 -0.55)">
<stop offset="0" stop-color="#ffffff" stop-opacity="0.9"/><stop offset="0.6" stop-color="#fbf8f2" stop-opacity="0.45"/><stop offset="1" stop-color="#ffffff" stop-opacity="0"/>
</radialGradient>
<linearGradient id="topdark" x1="0" y1="0" x2="0" y2="1">
<stop offset="0" stop-color="#5a5048" stop-opacity="0.28"/><stop offset="0.22" stop-color="#5a5048" stop-opacity="0"/>
</linearGradient>
<linearGradient id="fade" x1="0" y1="0" x2="0" y2="1">
<stop offset="0" stop-color="#000" stop-opacity="0"/><stop offset="0.48" stop-color="#000" stop-opacity="0"/><stop offset="0.6" stop-color="#000" stop-opacity="1"/><stop offset="1" stop-color="#000" stop-opacity="1"/>
</linearGradient>
</defs>
<rect x="0" y="0" width="269" height="115" fill="url(#skyh)"/>
<rect x="0" y="0" width="269" height="115" fill="url(#glow)"/>
<rect x="0" y="0" width="269" height="115" fill="url(#topdark)"/>
<g fill="#070707"><path d="M13.0 28.3 C14.0 18.0 16.0 16.0 23.0 16.0 Q29.0 17.5 35.0 16.0 C42.0 16.0 44.0 18.0 45.0 28.3 Z"/><path d="M0.5 29.8 Q29.0 24.3 59.0 27.7 L58.5 28.9 Q29.0 28.8 1.0 31.4 Z"/><ellipse cx="29.0" cy="33.1" rx="13.0" ry="6.3"/><path d="M63.5 26.2 C64.5 19.3 66.5 17.3 72.0 17.3 Q77.0 18.8 82.0 17.3 C87.5 17.3 89.5 19.3 90.5 26.2 Z"/><path d="M50.7 26.2 Q77.0 22.2 101.0 26.0 L100.5 27.2 Q77.0 26.7 51.2 27.8 Z"/><ellipse cx="77.0" cy="31.9" rx="11.0" ry="7.2"/><path d="M110.0 32.8 C111.0 26.3 113.0 24.3 117.6 24.3 Q122.0 25.8 126.4 24.3 C131.0 24.3 133.0 26.3 134.0 32.8 Z"/><path d="M103.5 33.3 Q122.0 28.8 139.3 32.5 L138.8 33.6 Q122.0 33.3 104.0 34.9 Z"/><ellipse cx="122.0" cy="36.6" rx="9.5" ry="5.3"/><path d="M155.2 36.5 C156.2 31.2 158.2 29.2 162.1 29.2 Q166.0 30.7 169.9 29.2 C173.8 29.2 175.8 31.2 176.8 36.5 Z"/><path d="M152.3 36.5 Q166.0 32.5 179.2 36.3 L178.7 37.5 Q166.0 37.0 152.8 38.1 Z"/><ellipse cx="166.0" cy="39.2" rx="8.0" ry="4.2"/><path d="M199.5 34.5 C200.5 30.0 202.5 28.0 206.8 28.0 Q211.0 29.5 215.2 28.0 C219.5 28.0 221.5 30.0 222.5 34.5 Z"/><path d="M194.6 34.5 Q211.0 30.5 226.0 34.3 L225.5 35.5 Q211.0 35.0 195.1 36.1 Z"/><ellipse cx="211.0" cy="37.8" rx="8.5" ry="4.8"/><path d="M224.5 33.6 C225.5 27.2 227.5 25.2 232.4 25.2 Q237.0 26.7 241.6 25.2 C246.5 25.2 248.5 27.2 249.5 33.6 Z"/><path d="M222.0 33.6 Q237.0 29.6 255.6 33.4 L255.1 34.6 Q237.0 34.1 222.5 35.2 Z"/><ellipse cx="237.0" cy="37.0" rx="9.5" ry="4.9"/>
<path d="M0 45 Q8 42 17 39 L42 37 Q55 38 60 45 L60 115 L0 115 Z"/>
<path d="M57 41 Q66 37.5 72 37.5 L84 37.5 L89.7 40.3 Q98 44 101 51.7 L103 62 L103 115 L55 115 Z"/>
<path d="M104.3 59.8 Q109 49 116 42 L128 40 L143.4 45.2 L146 115 L104 115 Z"/>
<path d="M142 45.5 L159 42 L173 42 L186 46 L188 115 L141 115 Z"/>
<path d="M183 44.5 L203 41.5 L219 41.5 L232 45 L232 115 L183 115 Z"/>
<path d="M224 44 L230 41 L244 41 L249 41.9 L268.9 46.8 L269 115 L222 115 Z"/>
</g>
<g fill="#2a2a2a" opacity="0.45">
<path d="M160 43 L166 52 L172 43 Z"/><path d="M204 43 L210 51 L217 43 Z"/><path d="M232 43 L239 53 L246 43 Z"/>
</g>
<rect x="0" y="0" width="269" height="115" fill="url(#fade)"/>
</svg>
<div class="t" style="left:696.5px;width:600px;text-align:center;top:291.11px;font-size:13px;font-weight:normal;font-style:normal;color:#fff;font-family:'Liberation Serif', serif;">2 espías se ven en un bar para tomar algo y piden un</div>
<div class="t" style="left:696.5px;width:600px;text-align:center;top:308.88px;font-size:13px;font-weight:normal;font-style:normal;color:#fff;font-family:'Liberation Serif', serif;">whisky con hielo. Le sirven de la misma botella.</div>
<div class="t" style="left:696.5px;width:600px;text-align:center;top:344.42px;font-size:13px;font-weight:normal;font-style:normal;color:#fff;font-family:'Liberation Serif', serif;">El delgado y ansioso se lo bebe de un trago y dice</div>
<div class="t" style="left:696.5px;width:600px;text-align:center;top:362.19px;font-size:13px;font-weight:normal;font-style:normal;color:#fff;font-family:'Liberation Serif', serif;">“Me quieren matar”, el otro, que grande y musculoso,</div>
<div class="t" style="left:696.5px;width:600px;text-align:center;top:379.96px;font-size:13px;font-weight:normal;font-style:normal;color:#fff;font-family:'Liberation Serif', serif;">también confirma que le quieren matar, pero le</div>
<div class="t" style="left:696.5px;width:600px;text-align:center;top:397.73px;font-size:13px;font-weight:normal;font-style:normal;color:#fff;font-family:'Liberation Serif', serif;">aconseja que esté tranquilo, que disfrute la vida, por</div>
<div class="t" style="left:696.5px;width:600px;text-align:center;top:415.50px;font-size:13px;font-weight:normal;font-style:normal;color:#fff;font-family:'Liberation Serif', serif;">lo que se toma el wisky despacio saboreándolo.</div>
<div class="t" style="left:696.5px;width:600px;text-align:center;top:451.04px;font-size:13px;font-weight:normal;font-style:normal;color:#fff;font-family:'Liberation Serif', serif;">Al salir del bar, el espía musculoso muere sin que</div>
<div class="t" style="left:696.5px;width:600px;text-align:center;top:468.81px;font-size:13px;font-weight:normal;font-style:normal;color:#fff;font-family:'Liberation Serif', serif;">nadie le dispare. ¿Cómo ha muerto y quien ha sido?</div>
</body></html>
